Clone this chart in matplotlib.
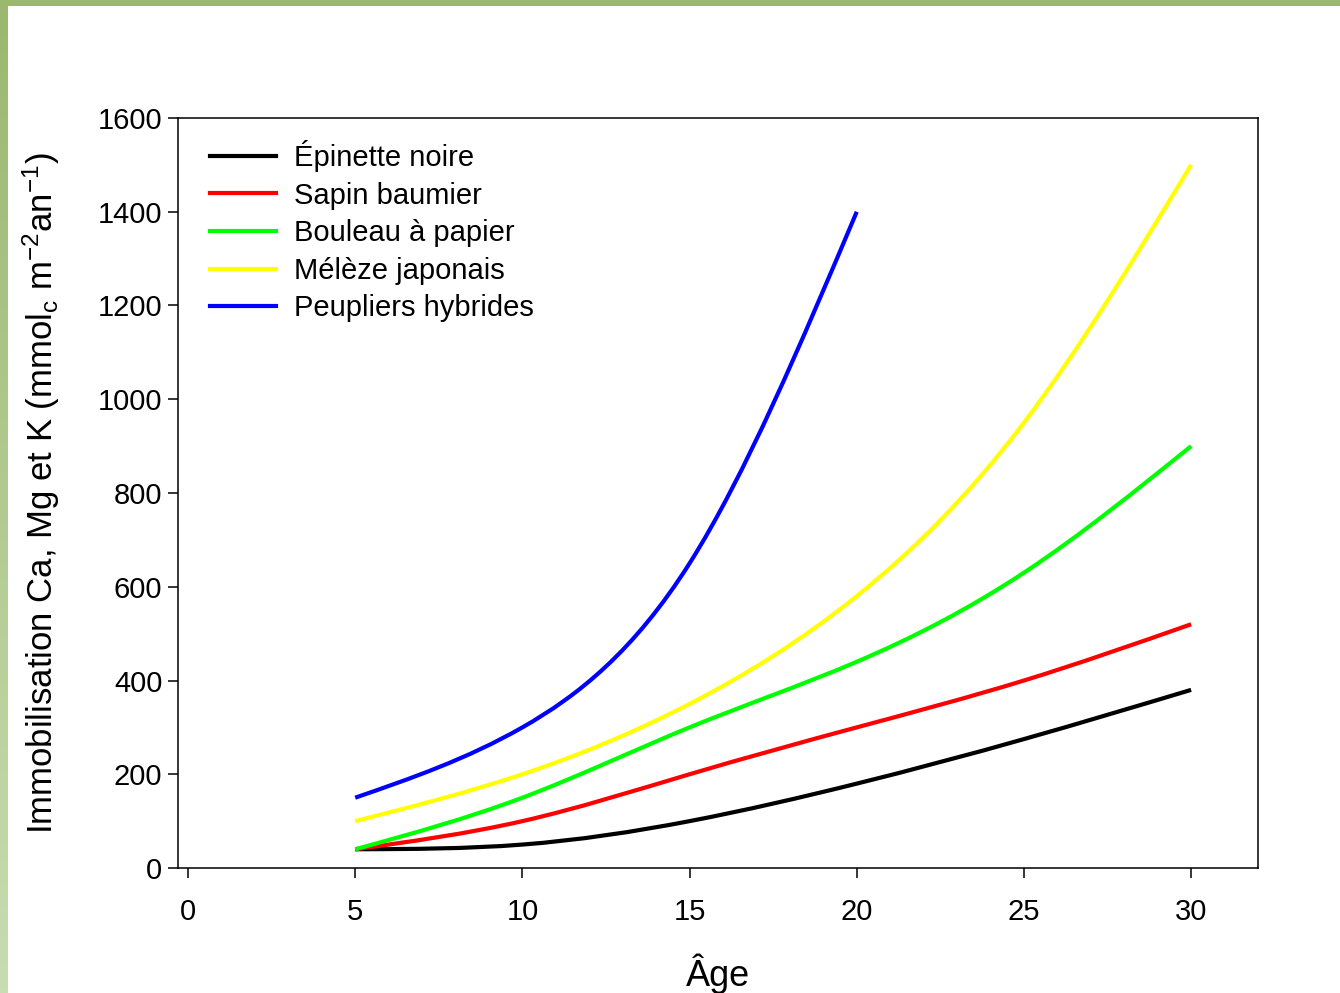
import numpy as np
import matplotlib
matplotlib.use("Agg")
import matplotlib.pyplot as plt
from matplotlib.patches import Rectangle, PathPatch
from matplotlib.path import Path
from matplotlib.lines import Line2D
from matplotlib.colors import LinearSegmentedColormap

plt.rcParams['font.family'] = ['Liberation Sans', 'DejaVu Sans']
plt.rcParams['mathtext.fontset'] = 'custom'
plt.rcParams['mathtext.rm'] = 'Liberation Sans'
plt.rcParams['mathtext.it'] = 'Liberation Sans'

# Data (age in years, immobilisation)
ages = [5, 10, 15, 20, 25, 30]
ages_peuplier = [5, 10, 15, 20]
epinette = [40, 50, 100, 180, 275, 380]
sapin = [40, 100, 200, 300, 400, 520]
bouleau = [40, 150, 300, 440, 630, 900]
meleze = [100, 200, 350, 580, 950, 1500]
peupliers = [150, 300, 650, 1400]

labels = ["Épinette noire", "Sapin baumier", "Bouleau à papier",
          "Mélèze japonais", "Peupliers hybrides"]
colors = ["#000000", "#ff0000", "#00ff00", "#ffff00", "#0000ff"]

xticks = [0, 5, 10, 15, 20, 25, 30]
yticks = [0, 200, 400, 600, 800, 1000, 1200, 1400, 1600]

W, H = 1340, 993
fig = plt.figure(figsize=(W / 100, H / 100), dpi=100)
fig.patch.set_facecolor('white')

# decorative border: top band and left gradient band
fig.patches.append(Rectangle((0, 1 - 6 / H), 1, 6 / H, transform=fig.transFigure,
                             facecolor='#9bb86f', edgecolor='none', zorder=0))
bax = fig.add_axes([0, 0, 8 / W, 1 - 6 / H])
grad = np.linspace(0, 1, 256).reshape(-1, 1)
cm = LinearSegmentedColormap.from_list('g', ['#9bb86f', '#c9dcb2'])
bax.imshow(grad, aspect='auto', cmap=cm, origin='upper')
bax.set_axis_off()

ax = fig.add_axes([178 / W, (H - 868) / H, 1080 / W, 750 / H])


def spline_path(x, y):
    """Smooth curve through the data points (natural cubic spline drawn as Bezier)."""
    x = np.asarray(x, float)
    y = np.asarray(y, float)
    n = len(x)
    h = np.diff(x)
    # second derivatives, natural end conditions
    A = np.zeros((n, n))
    b = np.zeros(n)
    A[0, 0] = A[-1, -1] = 1
    for i in range(1, n - 1):
        A[i, i - 1] = h[i - 1]
        A[i, i] = 2 * (h[i - 1] + h[i])
        A[i, i + 1] = h[i]
        b[i] = 6 * ((y[i + 1] - y[i]) / h[i] - (y[i] - y[i - 1]) / h[i - 1])
    M = np.linalg.solve(A, b)
    m = np.empty(n)
    for i in range(n - 1):
        m[i] = (y[i + 1] - y[i]) / h[i] - h[i] * (2 * M[i] + M[i + 1]) / 6
    m[-1] = (y[-1] - y[-2]) / h[-1] + h[-1] * (M[-2] + 2 * M[-1]) / 6
    verts = [(x[0], y[0])]
    codes = [Path.MOVETO]
    for i in range(n - 1):
        verts += [(x[i] + h[i] / 3, y[i] + m[i] * h[i] / 3),
                  (x[i + 1] - h[i] / 3, y[i + 1] - m[i + 1] * h[i] / 3),
                  (x[i + 1], y[i + 1])]
        codes += [Path.CURVE4] * 3
    return Path(verts, codes)


series = [(ages, epinette), (ages, sapin), (ages, bouleau), (ages, meleze),
          (ages_peuplier, peupliers)]
handles = []
for (x, y), lab, c in zip(series, labels, colors):
    ax.add_patch(PathPatch(spline_path(x, y), fill=False, edgecolor=c, lw=3,
                           capstyle='butt', joinstyle='round'))
    handles.append(Line2D([], [], color=c, lw=3, label=lab))

ax.set_xlim(-0.3, 32.0)
ax.set_ylim(0, 1600)
ax.set_xticks(xticks)
ax.set_yticks(yticks)
ax.tick_params(axis='both', direction='out', length=7.2, width=1.1, labelsize=21,
               color='black')
ax.tick_params(axis='x', pad=14.5)
ax.tick_params(axis='y', pad=4)
for s in ax.spines.values():
    s.set_linewidth(1.1)

ax.set_xlabel("Âge", fontsize=26, labelpad=20)
ax.set_ylabel("Immobilisation Ca, Mg et K (mmol$_{c}$ m$^{-2}$an$^{-1}$)",
              fontsize=25, labelpad=26)

leg = ax.legend(handles=handles, loc='upper left',
                bbox_to_anchor=(32 / 1080, 1 - 22 / 750),
                frameon=False, fontsize=21, handlelength=2.26, handletextpad=0.62,
                labelspacing=0.33, borderpad=0, borderaxespad=0)

fig.savefig("out.png", dpi=100)
